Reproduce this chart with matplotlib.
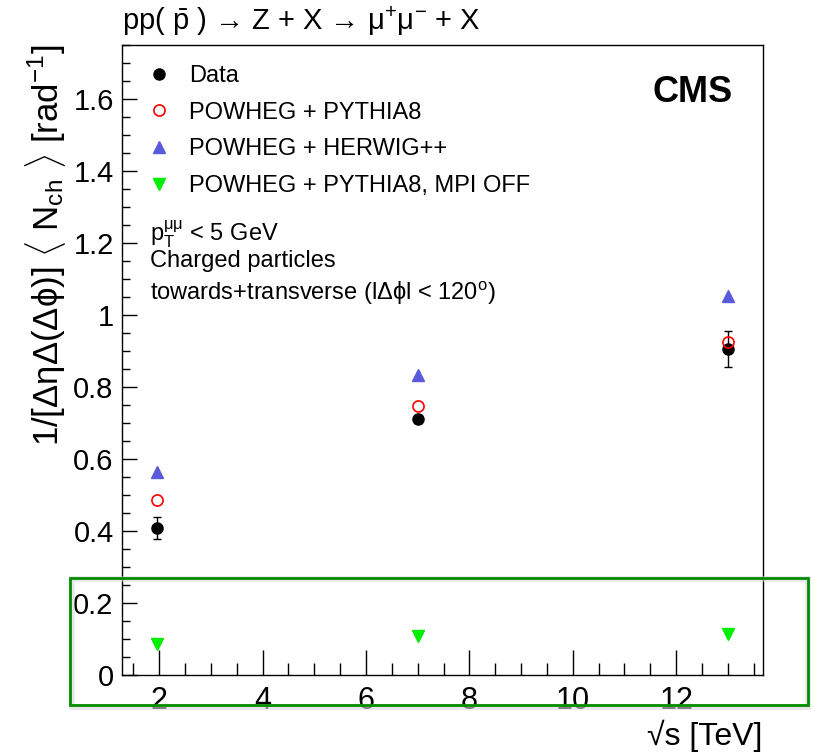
import matplotlib.pyplot as plt
from matplotlib.patches import Rectangle
from matplotlib.ticker import MultipleLocator

plt.rcParams["font.family"] = ["Liberation Sans", "DejaVu Sans"]
plt.rcParams["mathtext.fontset"] = "custom"
plt.rcParams["mathtext.rm"] = "Liberation Sans"
plt.rcParams["mathtext.it"] = "Liberation Sans:italic"

# sqrt(s) in TeV
energy = [1.96, 7, 13]
data = [0.408, 0.711, 0.906]
data_err = [0.031, 0.012, 0.050]
pythia8 = [0.486, 0.747, 0.925]
herwig = [0.564, 0.833, 1.053]
mpi_off = [0.086, 0.108, 0.114]

fig = plt.figure(figsize=(8.15, 7.54), dpi=100)
ax = fig.add_axes([0.1497, 0.1048, 0.7865, 0.8355])

ax.errorbar(energy, data, yerr=data_err, fmt="none", ecolor="black",
            elinewidth=1, capsize=3, capthick=1, zorder=3)
h_data, = ax.plot(energy, data, "o", color="black", ms=8, ls="none", zorder=3)
h_py, = ax.plot(energy, pythia8, "o", mfc="none", mec="red", ms=8, mew=1.2, ls="none", zorder=4)
h_hw, = ax.plot(energy, herwig, "^", color="#5a5adc", ms=8, ls="none")
h_off, = ax.plot(energy, mpi_off, "v", color="#00ee00", ms=8, ls="none")

ax.set_xlim(1.28, 13.68)
ax.set_ylim(0, 1.75)
ax.xaxis.set_major_locator(MultipleLocator(2))
ax.xaxis.set_minor_locator(MultipleLocator(0.5))
ax.yaxis.set_major_locator(MultipleLocator(0.2))
ax.yaxis.set_minor_locator(MultipleLocator(0.05))
ax.tick_params(axis="both", which="both", direction="in", top=False, right=False)
ax.tick_params(axis="x", which="major", length=18, width=1, labelsize=22, pad=8)
ax.tick_params(axis="x", which="minor", length=9, width=1)
ax.tick_params(axis="y", which="major", length=11, width=1, labelsize=21, pad=6)
ax.tick_params(axis="y", which="minor", length=5.5, width=1)
ax.yaxis.set_major_formatter(plt.FuncFormatter(lambda v, p: f"{v:g}"))
for s in ax.spines.values():
    s.set_linewidth(1)

ax.set_ylabel(r"1/[$\mathrm{\Delta\eta\Delta(\Delta\phi}$)] $\langle$ N$_{\mathrm{ch}}$ $\rangle$ [rad$^{-1}$]",
              fontsize=25, loc="top", labelpad=4)
fig.text(0.936, 0.003, "√s [TeV]", fontsize=23, ha="right", va="bottom")
fig.text(0.1497, 0.972, r"pp( $\bar{\mathrm{p}}$ ) → Z + X → $\mathrm{\mu}^{+}\mathrm{\mu}^{-}$ + X",
         fontsize=21, ha="left", va="center")

ax.legend([h_data, h_py, h_hw, h_off],
          ["Data", "POWHEG + PYTHIA8", "POWHEG + HERWIG++", "POWHEG + PYTHIA8, MPI OFF"],
          loc="upper left", bbox_to_anchor=(0.002, 1.002), frameon=False, fontsize=17,
          handletextpad=0.7, labelspacing=0.62, handlelength=1.2)

ax.text(0.953, 0.925, "CMS", transform=ax.transAxes, fontsize=26, fontweight="bold",
        ha="right", va="center")
ax.text(0.043, 0.70, r"p$_{\mathrm{T}}^{\mathrm{\mu\mu}}$ < 5 GeV", transform=ax.transAxes,
        fontsize=17, va="center")
ax.text(0.043, 0.657, "Charged particles", transform=ax.transAxes, fontsize=17, va="center")
ax.text(0.043, 0.606, r"towards+transverse (l$\mathrm{\Delta\phi}$l < 120$^{\mathrm{o}}$)",
        transform=ax.transAxes, fontsize=17, va="center")

# highlight box around the lowest region
W, H = 815, 754
fig.patches.append(Rectangle((72 / W, (H - 707) / H), 736 / W, 128 / H, transform=fig.transFigure,
                             fill=False, edgecolor="#d8d8d8", lw=4, alpha=0.6, zorder=9))
fig.patches.append(Rectangle((70 / W, (H - 705) / H), 738 / W, 127 / H, transform=fig.transFigure,
                             fill=False, edgecolor="#008c00", lw=2, zorder=10))

fig.savefig("out.png", dpi=100)
